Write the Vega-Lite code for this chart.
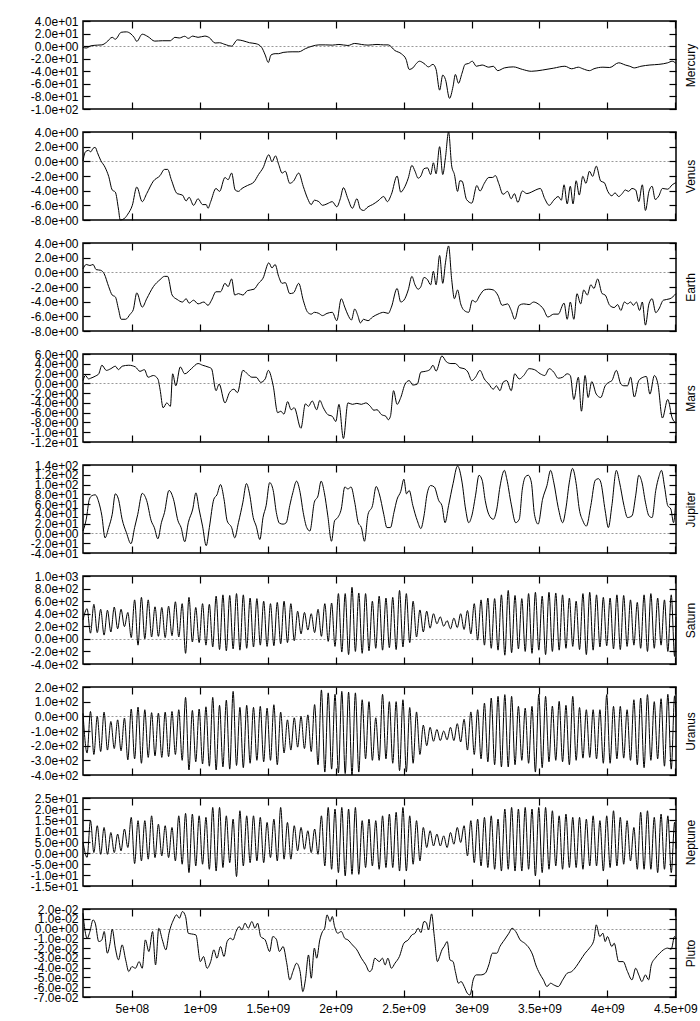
{
"$schema":"https://vega.github.io/schema/vega-lite/v6.json",
"background":"white",
"padding":{"left":29,"top":14,"right":5,"bottom":5},
"config":{
"view":{"stroke":"#000","strokeWidth":1.5},
"axis":{"domain":false,"grid":false,"ticks":true,"tickColor":"#000","tickWidth":1.2,"tickSize":-7,"labelFont":"Liberation Sans","labelFontSize":12,"labelColor":"#000","labelPadding":12,"labelOverlap":false,"labelFlush":false,"labelBound":false,"titleFont":"Liberation Sans","titleFontSize":12,"titleFontWeight":"normal","titleColor":"#000"},
"line":{"color":"#000","strokeWidth":1,"interpolate":"monotone","clip":true}
},
"datasets":{
"mercury":[{"t":0.14e9,"v":-2},{"t":0.164e9,"v":-3},{"t":0.197e9,"v":0.5},{"t":0.246e9,"v":1.6},{"t":0.279e9,"v":2},{"t":0.312e9,"v":6},{"t":0.355e9,"v":14},{"t":0.378e9,"v":11},{"t":0.421e9,"v":22},{"t":0.46e9,"v":22.7},{"t":0.493e9,"v":19.4},{"t":0.516e9,"v":14},{"t":0.536e9,"v":7.6},{"t":0.576e9,"v":19},{"t":0.619e9,"v":15},{"t":0.668e9,"v":8},{"t":0.724e9,"v":8.6},{"t":0.783e9,"v":8.6},{"t":0.816e9,"v":14},{"t":0.849e9,"v":13},{"t":0.889e9,"v":15.7},{"t":0.915e9,"v":12.4},{"t":0.948e9,"v":16},{"t":0.987e9,"v":14},{"t":1.037e9,"v":16},{"t":1.07e9,"v":13.5},{"t":1.112e9,"v":5},{"t":1.145e9,"v":5.4},{"t":1.185e9,"v":2.7},{"t":1.234e9,"v":0},{"t":1.277e9,"v":10},{"t":1.317e9,"v":8.6},{"t":1.366e9,"v":5.4},{"t":1.415e9,"v":3.8},{"t":1.455e9,"v":-2},{"t":1.481e9,"v":-14},{"t":1.504e9,"v":-26},{"t":1.524e9,"v":-14},{"t":1.554e9,"v":-12},{"t":1.58e9,"v":-12},{"t":1.613e9,"v":-10},{"t":1.679e9,"v":-9},{"t":1.728e9,"v":-9},{"t":1.777e9,"v":-4},{"t":1.827e9,"v":0},{"t":1.876e9,"v":2},{"t":1.926e9,"v":2},{"t":1.975e9,"v":1.6},{"t":2.024e9,"v":2.7},{"t":2.09e9,"v":1},{"t":2.14e9,"v":4.3},{"t":2.189e9,"v":2.7},{"t":2.238e9,"v":1.6},{"t":2.304e9,"v":2.7},{"t":2.354e9,"v":2},{"t":2.387e9,"v":2},{"t":2.436e9,"v":-7},{"t":2.485e9,"v":-12.4},{"t":2.518e9,"v":-21},{"t":2.541e9,"v":-37},{"t":2.568e9,"v":-34.6},{"t":2.594e9,"v":-27.5},{"t":2.617e9,"v":-24},{"t":2.65e9,"v":-27.5},{"t":2.683e9,"v":-33},{"t":2.716e9,"v":-29},{"t":2.739e9,"v":-37},{"t":2.765e9,"v":-70},{"t":2.788e9,"v":-46},{"t":2.808e9,"v":-53},{"t":2.838e9,"v":-83},{"t":2.864e9,"v":-64},{"t":2.881e9,"v":-45},{"t":2.904e9,"v":-59},{"t":2.93e9,"v":-43},{"t":2.953e9,"v":-29},{"t":2.979e9,"v":-27.5},{"t":3.006e9,"v":-24},{"t":3.035e9,"v":-32},{"t":3.078e9,"v":-30},{"t":3.127e9,"v":-33.5},{"t":3.16e9,"v":-32},{"t":3.193e9,"v":-39},{"t":3.242e9,"v":-34.6},{"t":3.308e9,"v":-33},{"t":3.374e9,"v":-37},{"t":3.44e9,"v":-40},{"t":3.523e9,"v":-38},{"t":3.605e9,"v":-35},{"t":3.687e9,"v":-32},{"t":3.737e9,"v":-36},{"t":3.786e9,"v":-33.5},{"t":3.819e9,"v":-36},{"t":3.868e9,"v":-39},{"t":3.901e9,"v":-36},{"t":3.967e9,"v":-33.5},{"t":4.017e9,"v":-34},{"t":4.083e9,"v":-26.5},{"t":4.132e9,"v":-30},{"t":4.165e9,"v":-32},{"t":4.198e9,"v":-34.6},{"t":4.247e9,"v":-32},{"t":4.313e9,"v":-30},{"t":4.379e9,"v":-29},{"t":4.444e9,"v":-26.5},{"t":4.477e9,"v":-24},{"t":4.505e9,"v":-27.5}],
"venus":[{"t":0.14e9,"v":0.05},{"t":0.158e9,"v":1.3},{"t":0.181e9,"v":1.5},{"t":0.197e9,"v":1.3},{"t":0.214e9,"v":1.77},{"t":0.23e9,"v":1.9},{"t":0.246e9,"v":1.2},{"t":0.27e9,"v":0.14},{"t":0.302e9,"v":-0.8},{"t":0.329e9,"v":-2.05},{"t":0.355e9,"v":-3.9},{"t":0.378e9,"v":-4.2},{"t":0.401e9,"v":-6.5},{"t":0.414e9,"v":-8},{"t":0.444e9,"v":-7.8},{"t":0.47e9,"v":-7.2},{"t":0.503e9,"v":-6},{"t":0.536e9,"v":-3.5},{"t":0.576e9,"v":-5.5},{"t":0.609e9,"v":-4.4},{"t":0.658e9,"v":-2.7},{"t":0.707e9,"v":-1.95},{"t":0.74e9,"v":-1.1},{"t":0.763e9,"v":-1.1},{"t":0.79e9,"v":-2.5},{"t":0.833e9,"v":-4.4},{"t":0.872e9,"v":-4.6},{"t":0.899e9,"v":-5.4},{"t":0.921e9,"v":-4.9},{"t":0.954e9,"v":-6},{"t":0.987e9,"v":-5.1},{"t":1.02e9,"v":-5.9},{"t":1.047e9,"v":-5.9},{"t":1.06e9,"v":-6.4},{"t":1.08e9,"v":-5.5},{"t":1.119e9,"v":-3.7},{"t":1.145e9,"v":-4.1},{"t":1.185e9,"v":-2.2},{"t":1.208e9,"v":-2.5},{"t":1.234e9,"v":-1.6},{"t":1.26e9,"v":-3.9},{"t":1.284e9,"v":-4.1},{"t":1.31e9,"v":-3.7},{"t":1.35e9,"v":-3.3},{"t":1.399e9,"v":-2.8},{"t":1.432e9,"v":-1.8},{"t":1.465e9,"v":-0.9},{"t":1.508e9,"v":0.9},{"t":1.531e9,"v":-0.05},{"t":1.557e9,"v":0.75},{"t":1.58e9,"v":-0.4},{"t":1.606e9,"v":-1.6},{"t":1.629e9,"v":-1.35},{"t":1.662e9,"v":-3},{"t":1.689e9,"v":-2.7},{"t":1.728e9,"v":-1.6},{"t":1.761e9,"v":-3.4},{"t":1.794e9,"v":-5.1},{"t":1.82e9,"v":-5.9},{"t":1.843e9,"v":-5.3},{"t":1.876e9,"v":-5.5},{"t":1.903e9,"v":-6},{"t":1.936e9,"v":-5.8},{"t":1.975e9,"v":-5.5},{"t":2.008e9,"v":-6.2},{"t":2.034e9,"v":-5.1},{"t":2.057e9,"v":-3.6},{"t":2.09e9,"v":-5.1},{"t":2.123e9,"v":-6.4},{"t":2.156e9,"v":-5.1},{"t":2.182e9,"v":-6.5},{"t":2.205e9,"v":-6.7},{"t":2.238e9,"v":-6.2},{"t":2.271e9,"v":-5.9},{"t":2.311e9,"v":-5.4},{"t":2.354e9,"v":-4.8},{"t":2.38e9,"v":-5.5},{"t":2.41e9,"v":-4.5},{"t":2.452e9,"v":-2},{"t":2.479e9,"v":-4.2},{"t":2.502e9,"v":-3.7},{"t":2.534e9,"v":-2.3},{"t":2.561e9,"v":-0.55},{"t":2.584e9,"v":-1.35},{"t":2.607e9,"v":-2.3},{"t":2.627e9,"v":-2},{"t":2.65e9,"v":-1},{"t":2.676e9,"v":-0.9},{"t":2.699e9,"v":-1.8},{"t":2.719e9,"v":-0.2},{"t":2.739e9,"v":-1.7},{"t":2.765e9,"v":2},{"t":2.788e9,"v":-1.8},{"t":2.808e9,"v":0.5},{"t":2.831e9,"v":4},{"t":2.854e9,"v":-0.65},{"t":2.874e9,"v":-1.8},{"t":2.897e9,"v":-4.1},{"t":2.914e9,"v":-2.65},{"t":2.93e9,"v":-2.7},{"t":2.963e9,"v":-5.2},{"t":3.002e9,"v":-5.7},{"t":3.039e9,"v":-3.3},{"t":3.062e9,"v":-4.05},{"t":3.094e9,"v":-3},{"t":3.127e9,"v":-2.2},{"t":3.154e9,"v":-2.2},{"t":3.176e9,"v":-1.95},{"t":3.2e9,"v":-3},{"t":3.232e9,"v":-4.5},{"t":3.265e9,"v":-4.1},{"t":3.292e9,"v":-5.1},{"t":3.315e9,"v":-4.4},{"t":3.341e9,"v":-5.6},{"t":3.374e9,"v":-4.05},{"t":3.407e9,"v":-4.4},{"t":3.44e9,"v":-4.2},{"t":3.473e9,"v":-3.9},{"t":3.506e9,"v":-3.7},{"t":3.539e9,"v":-5.1},{"t":3.572e9,"v":-6},{"t":3.605e9,"v":-5.3},{"t":3.638e9,"v":-4.8},{"t":3.661e9,"v":-5.3},{"t":3.681e9,"v":-3.2},{"t":3.704e9,"v":-5.8},{"t":3.727e9,"v":-3.4},{"t":3.747e9,"v":-5.8},{"t":3.77e9,"v":-2.65},{"t":3.793e9,"v":-4.6},{"t":3.819e9,"v":-2.05},{"t":3.842e9,"v":-3},{"t":3.868e9,"v":-1.35},{"t":3.891e9,"v":-2.05},{"t":3.918e9,"v":-0.65},{"t":3.951e9,"v":-2.7},{"t":3.977e9,"v":-2.9},{"t":4.003e9,"v":-4.1},{"t":4.033e9,"v":-4.7},{"t":4.056e9,"v":-4.3},{"t":4.083e9,"v":-4.8},{"t":4.109e9,"v":-4.4},{"t":4.132e9,"v":-3.9},{"t":4.155e9,"v":-4.1},{"t":4.181e9,"v":-3.7},{"t":4.208e9,"v":-3.9},{"t":4.231e9,"v":-5.5},{"t":4.257e9,"v":-3.2},{"t":4.28e9,"v":-6.7},{"t":4.306e9,"v":-4.1},{"t":4.329e9,"v":-3.4},{"t":4.352e9,"v":-5.2},{"t":4.379e9,"v":-4.7},{"t":4.405e9,"v":-3.7},{"t":4.444e9,"v":-3.8},{"t":4.477e9,"v":-3.2},{"t":4.505e9,"v":-2.9}],
"earth":[{"t":0.14e9,"v":0.47},{"t":0.164e9,"v":1.07},{"t":0.191e9,"v":0.93},{"t":0.214e9,"v":1.07},{"t":0.237e9,"v":0.37},{"t":0.27e9,"v":0.28},{"t":0.296e9,"v":-0.2},{"t":0.329e9,"v":-1.95},{"t":0.355e9,"v":-3.1},{"t":0.378e9,"v":-3.35},{"t":0.401e9,"v":-5},{"t":0.421e9,"v":-6.4},{"t":0.454e9,"v":-6.4},{"t":0.487e9,"v":-5.7},{"t":0.51e9,"v":-5.1},{"t":0.536e9,"v":-2.8},{"t":0.576e9,"v":-4.75},{"t":0.609e9,"v":-3.6},{"t":0.658e9,"v":-1.95},{"t":0.707e9,"v":-1},{"t":0.74e9,"v":-0.55},{"t":0.763e9,"v":-0.55},{"t":0.796e9,"v":-3.1},{"t":0.833e9,"v":-3.7},{"t":0.872e9,"v":-4.05},{"t":0.899e9,"v":-3.6},{"t":0.921e9,"v":-4.2},{"t":0.954e9,"v":-3.8},{"t":0.987e9,"v":-4.3},{"t":1.03e9,"v":-4.05},{"t":1.06e9,"v":-4.5},{"t":1.086e9,"v":-3.8},{"t":1.119e9,"v":-2.65},{"t":1.152e9,"v":-2.65},{"t":1.185e9,"v":-1.5},{"t":1.208e9,"v":-1.95},{"t":1.234e9,"v":-0.9},{"t":1.257e9,"v":-3.1},{"t":1.284e9,"v":-2.9},{"t":1.317e9,"v":-3.1},{"t":1.35e9,"v":-2.5},{"t":1.399e9,"v":-2.3},{"t":1.432e9,"v":-1.5},{"t":1.465e9,"v":-0.8},{"t":1.508e9,"v":1.3},{"t":1.531e9,"v":0.6},{"t":1.554e9,"v":1.07},{"t":1.58e9,"v":-0.55},{"t":1.606e9,"v":-1.5},{"t":1.629e9,"v":-1.4},{"t":1.662e9,"v":-2.9},{"t":1.689e9,"v":-2.8},{"t":1.728e9,"v":-1.5},{"t":1.761e9,"v":-3.8},{"t":1.794e9,"v":-5.45},{"t":1.82e9,"v":-5.7},{"t":1.843e9,"v":-5.45},{"t":1.876e9,"v":-5.6},{"t":1.903e9,"v":-5.9},{"t":1.936e9,"v":-5.6},{"t":1.975e9,"v":-5.45},{"t":2.008e9,"v":-6.6},{"t":2.041e9,"v":-3.6},{"t":2.067e9,"v":-4.75},{"t":2.09e9,"v":-5.8},{"t":2.116e9,"v":-6.5},{"t":2.14e9,"v":-5},{"t":2.163e9,"v":-5.9},{"t":2.182e9,"v":-6.9},{"t":2.205e9,"v":-6.4},{"t":2.238e9,"v":-6.6},{"t":2.271e9,"v":-6.1},{"t":2.311e9,"v":-5.7},{"t":2.354e9,"v":-5.45},{"t":2.387e9,"v":-5.6},{"t":2.41e9,"v":-4.75},{"t":2.452e9,"v":-2.2},{"t":2.479e9,"v":-4.05},{"t":2.502e9,"v":-3.8},{"t":2.534e9,"v":-2.4},{"t":2.561e9,"v":-0.55},{"t":2.584e9,"v":-1.7},{"t":2.607e9,"v":-2.3},{"t":2.627e9,"v":-1.95},{"t":2.65e9,"v":-0.7},{"t":2.676e9,"v":-1},{"t":2.699e9,"v":-1.7},{"t":2.719e9,"v":0.14},{"t":2.739e9,"v":-1.7},{"t":2.765e9,"v":2.3},{"t":2.788e9,"v":-1.5},{"t":2.808e9,"v":1.3},{"t":2.831e9,"v":3.6},{"t":2.854e9,"v":-1},{"t":2.874e9,"v":-3.6},{"t":2.897e9,"v":-2.4},{"t":2.92e9,"v":-4.3},{"t":2.946e9,"v":-5.2},{"t":2.979e9,"v":-5.45},{"t":3.006e9,"v":-3.8},{"t":3.029e9,"v":-4.05},{"t":3.062e9,"v":-3.1},{"t":3.094e9,"v":-2.4},{"t":3.127e9,"v":-2.3},{"t":3.16e9,"v":-2.4},{"t":3.193e9,"v":-3.1},{"t":3.226e9,"v":-4.5},{"t":3.265e9,"v":-4.3},{"t":3.292e9,"v":-5.2},{"t":3.318e9,"v":-6.4},{"t":3.351e9,"v":-4.5},{"t":3.384e9,"v":-4.3},{"t":3.424e9,"v":-4.4},{"t":3.457e9,"v":-4.05},{"t":3.49e9,"v":-4.3},{"t":3.529e9,"v":-5},{"t":3.562e9,"v":-6.1},{"t":3.605e9,"v":-5.7},{"t":3.638e9,"v":-5.7},{"t":3.681e9,"v":-4.2},{"t":3.704e9,"v":-6.4},{"t":3.727e9,"v":-4.05},{"t":3.753e9,"v":-6.4},{"t":3.776e9,"v":-2.9},{"t":3.803e9,"v":-4.3},{"t":3.826e9,"v":-2.4},{"t":3.852e9,"v":-3.1},{"t":3.878e9,"v":-1.7},{"t":3.901e9,"v":-2.2},{"t":3.928e9,"v":-0.9},{"t":3.961e9,"v":-2.9},{"t":3.984e9,"v":-3.1},{"t":4.017e9,"v":-4.5},{"t":4.05e9,"v":-4.8},{"t":4.076e9,"v":-4.4},{"t":4.099e9,"v":-5.2},{"t":4.125e9,"v":-4.05},{"t":4.148e9,"v":-4.3},{"t":4.171e9,"v":-4.05},{"t":4.191e9,"v":-4.5},{"t":4.214e9,"v":-4.05},{"t":4.237e9,"v":-5.2},{"t":4.257e9,"v":-4.05},{"t":4.28e9,"v":-7.2},{"t":4.306e9,"v":-4.3},{"t":4.329e9,"v":-3.6},{"t":4.356e9,"v":-5.5},{"t":4.379e9,"v":-5},{"t":4.412e9,"v":-3.8},{"t":4.461e9,"v":-3.6},{"t":4.505e9,"v":-2.9}],
"mars":[{"t":0.14e9,"v":0.56},{"t":0.158e9,"v":1.6},{"t":0.181e9,"v":0.9},{"t":0.197e9,"v":1.05},{"t":0.23e9,"v":1.46},{"t":0.256e9,"v":1.95},{"t":0.279e9,"v":3.7},{"t":0.312e9,"v":2.65},{"t":0.345e9,"v":3},{"t":0.378e9,"v":3.5},{"t":0.401e9,"v":2.8},{"t":0.428e9,"v":3.5},{"t":0.477e9,"v":3.7},{"t":0.526e9,"v":3.35},{"t":0.559e9,"v":2.45},{"t":0.592e9,"v":2.8},{"t":0.619e9,"v":1.25},{"t":0.658e9,"v":1.6},{"t":0.691e9,"v":0.9},{"t":0.707e9,"v":-1.2},{"t":0.73e9,"v":-5},{"t":0.757e9,"v":-4},{"t":0.783e9,"v":-4.7},{"t":0.8e9,"v":1.95},{"t":0.823e9,"v":-0.5},{"t":0.856e9,"v":3.35},{"t":0.889e9,"v":1.95},{"t":0.938e9,"v":3},{"t":0.987e9,"v":4.05},{"t":1.02e9,"v":3.7},{"t":1.06e9,"v":3.35},{"t":1.086e9,"v":3},{"t":1.119e9,"v":-1.5},{"t":1.142e9,"v":-0.15},{"t":1.185e9,"v":-4},{"t":1.218e9,"v":-1.9},{"t":1.251e9,"v":-1.2},{"t":1.277e9,"v":-1.9},{"t":1.317e9,"v":2.65},{"t":1.35e9,"v":1.95},{"t":1.383e9,"v":1.25},{"t":1.415e9,"v":1.25},{"t":1.448e9,"v":0.2},{"t":1.481e9,"v":0.9},{"t":1.504e9,"v":2.65},{"t":1.54e9,"v":-0.5},{"t":1.573e9,"v":-6},{"t":1.596e9,"v":-5.7},{"t":1.619e9,"v":-6.3},{"t":1.646e9,"v":-3.75},{"t":1.672e9,"v":-5.4},{"t":1.695e9,"v":-5},{"t":1.744e9,"v":-9.2},{"t":1.777e9,"v":-4.2},{"t":1.8e9,"v":-4.7},{"t":1.827e9,"v":-3.6},{"t":1.86e9,"v":-5.4},{"t":1.883e9,"v":-3.5},{"t":1.909e9,"v":-5},{"t":1.942e9,"v":-6.4},{"t":1.975e9,"v":-6.75},{"t":2.001e9,"v":-7.8},{"t":2.024e9,"v":-4.3},{"t":2.057e9,"v":-11.3},{"t":2.09e9,"v":-4},{"t":2.123e9,"v":-4.3},{"t":2.156e9,"v":-4.1},{"t":2.189e9,"v":-4.3},{"t":2.222e9,"v":-4},{"t":2.255e9,"v":-4.7},{"t":2.281e9,"v":-5.5},{"t":2.304e9,"v":-5.4},{"t":2.337e9,"v":-6.4},{"t":2.37e9,"v":-6.75},{"t":2.387e9,"v":-7.45},{"t":2.403e9,"v":-6.75},{"t":2.426e9,"v":-1.5},{"t":2.452e9,"v":-4.3},{"t":2.479e9,"v":-2.9},{"t":2.511e9,"v":-0.15},{"t":2.541e9,"v":0.56},{"t":2.568e9,"v":-0.35},{"t":2.601e9,"v":-0.15},{"t":2.627e9,"v":2.3},{"t":2.66e9,"v":2.45},{"t":2.693e9,"v":2.8},{"t":2.716e9,"v":3.7},{"t":2.739e9,"v":2.5},{"t":2.782e9,"v":5.6},{"t":2.815e9,"v":4.4},{"t":2.848e9,"v":4.05},{"t":2.881e9,"v":4.05},{"t":2.914e9,"v":3.2},{"t":2.946e9,"v":3},{"t":2.973e9,"v":2.3},{"t":3.002e9,"v":0.56},{"t":3.029e9,"v":1.25},{"t":3.062e9,"v":2.65},{"t":3.094e9,"v":0.9},{"t":3.127e9,"v":-0.15},{"t":3.16e9,"v":-1.2},{"t":3.183e9,"v":-0.5},{"t":3.209e9,"v":-1.5},{"t":3.232e9,"v":0.2},{"t":3.259e9,"v":0.56},{"t":3.292e9,"v":-1.5},{"t":3.318e9,"v":1.95},{"t":3.351e9,"v":0.9},{"t":3.384e9,"v":1.6},{"t":3.424e9,"v":3},{"t":3.463e9,"v":2.8},{"t":3.506e9,"v":1.95},{"t":3.539e9,"v":1.6},{"t":3.572e9,"v":3},{"t":3.605e9,"v":2.3},{"t":3.638e9,"v":1.05},{"t":3.671e9,"v":1.25},{"t":3.704e9,"v":1.95},{"t":3.727e9,"v":1.6},{"t":3.753e9,"v":-3.3},{"t":3.786e9,"v":1.25},{"t":3.809e9,"v":-5.7},{"t":3.836e9,"v":1.6},{"t":3.858e9,"v":-2.9},{"t":3.885e9,"v":0.35},{"t":3.918e9,"v":-2.2},{"t":3.951e9,"v":-2.9},{"t":3.984e9,"v":-0.5},{"t":4.01e9,"v":0.2},{"t":4.033e9,"v":0.56},{"t":4.066e9,"v":2.65},{"t":4.099e9,"v":-0.15},{"t":4.122e9,"v":-0.5},{"t":4.148e9,"v":-0.5},{"t":4.171e9,"v":1.25},{"t":4.198e9,"v":-2.8},{"t":4.231e9,"v":0.56},{"t":4.264e9,"v":1.25},{"t":4.287e9,"v":1.4},{"t":4.313e9,"v":-2.2},{"t":4.346e9,"v":1.6},{"t":4.372e9,"v":-0.15},{"t":4.405e9,"v":-7.1},{"t":4.444e9,"v":-3.3},{"t":4.477e9,"v":-7.1},{"t":4.505e9,"v":-8.15}],
"jupiter":[{"t":0.14e9,"v":5},{"t":0.164e9,"v":29},{"t":0.187e9,"v":70},{"t":0.207e9,"v":77.5},{"t":0.23e9,"v":79},{"t":0.256e9,"v":64},{"t":0.279e9,"v":36},{"t":0.302e9,"v":-9},{"t":0.329e9,"v":12},{"t":0.355e9,"v":39},{"t":0.378e9,"v":81},{"t":0.401e9,"v":70},{"t":0.428e9,"v":29},{"t":0.46e9,"v":1.4},{"t":0.493e9,"v":-21},{"t":0.52e9,"v":12},{"t":0.543e9,"v":39},{"t":0.576e9,"v":82},{"t":0.609e9,"v":67},{"t":0.642e9,"v":26},{"t":0.665e9,"v":12},{"t":0.691e9,"v":-11},{"t":0.717e9,"v":22},{"t":0.74e9,"v":43},{"t":0.773e9,"v":88},{"t":0.806e9,"v":70},{"t":0.839e9,"v":26},{"t":0.862e9,"v":12},{"t":0.889e9,"v":-17},{"t":0.915e9,"v":22},{"t":0.948e9,"v":50},{"t":0.971e9,"v":83},{"t":0.994e9,"v":50},{"t":1.02e9,"v":15},{"t":1.047e9,"v":-25},{"t":1.07e9,"v":12},{"t":1.103e9,"v":70},{"t":1.126e9,"v":79},{"t":1.152e9,"v":100},{"t":1.178e9,"v":70},{"t":1.201e9,"v":26},{"t":1.234e9,"v":12},{"t":1.257e9,"v":-9},{"t":1.284e9,"v":22},{"t":1.317e9,"v":64},{"t":1.343e9,"v":102},{"t":1.366e9,"v":81},{"t":1.393e9,"v":32.5},{"t":1.415e9,"v":15},{"t":1.442e9,"v":-12.5},{"t":1.465e9,"v":32.5},{"t":1.488e9,"v":57},{"t":1.514e9,"v":104},{"t":1.54e9,"v":88},{"t":1.563e9,"v":43},{"t":1.586e9,"v":21},{"t":1.613e9,"v":19},{"t":1.636e9,"v":22},{"t":1.662e9,"v":57},{"t":1.685e9,"v":84},{"t":1.712e9,"v":107},{"t":1.738e9,"v":84},{"t":1.761e9,"v":43},{"t":1.787e9,"v":12},{"t":1.81e9,"v":5},{"t":1.843e9,"v":64},{"t":1.87e9,"v":77},{"t":1.893e9,"v":107},{"t":1.916e9,"v":84},{"t":1.942e9,"v":36},{"t":1.969e9,"v":-16},{"t":1.992e9,"v":26},{"t":2.015e9,"v":32.5},{"t":2.041e9,"v":50},{"t":2.067e9,"v":95},{"t":2.09e9,"v":91},{"t":2.113e9,"v":95},{"t":2.14e9,"v":64},{"t":2.166e9,"v":22},{"t":2.189e9,"v":12},{"t":2.212e9,"v":-16},{"t":2.238e9,"v":39},{"t":2.271e9,"v":57},{"t":2.298e9,"v":96},{"t":2.321e9,"v":81},{"t":2.354e9,"v":39},{"t":2.377e9,"v":12},{"t":2.403e9,"v":12},{"t":2.429e9,"v":43},{"t":2.452e9,"v":70},{"t":2.479e9,"v":86},{"t":2.502e9,"v":111},{"t":2.521e9,"v":81},{"t":2.541e9,"v":88},{"t":2.568e9,"v":57},{"t":2.601e9,"v":26},{"t":2.627e9,"v":10},{"t":2.65e9,"v":36},{"t":2.673e9,"v":81},{"t":2.699e9,"v":98},{"t":2.726e9,"v":95},{"t":2.759e9,"v":67},{"t":2.782e9,"v":57},{"t":2.805e9,"v":22},{"t":2.831e9,"v":57},{"t":2.864e9,"v":102},{"t":2.897e9,"v":138},{"t":2.93e9,"v":105},{"t":2.956e9,"v":50},{"t":2.979e9,"v":22},{"t":3.002e9,"v":36},{"t":3.029e9,"v":77},{"t":3.055e9,"v":119},{"t":3.078e9,"v":109},{"t":3.101e9,"v":67},{"t":3.127e9,"v":39},{"t":3.16e9,"v":29},{"t":3.186e9,"v":50},{"t":3.209e9,"v":95},{"t":3.242e9,"v":129},{"t":3.259e9,"v":112},{"t":3.292e9,"v":60},{"t":3.325e9,"v":22},{"t":3.351e9,"v":29},{"t":3.374e9,"v":91},{"t":3.397e9,"v":116},{"t":3.417e9,"v":119},{"t":3.44e9,"v":105},{"t":3.463e9,"v":39},{"t":3.49e9,"v":19},{"t":3.523e9,"v":70},{"t":3.555e9,"v":98},{"t":3.582e9,"v":129},{"t":3.605e9,"v":105},{"t":3.638e9,"v":53},{"t":3.671e9,"v":22},{"t":3.694e9,"v":50},{"t":3.72e9,"v":105},{"t":3.743e9,"v":133},{"t":3.77e9,"v":102},{"t":3.793e9,"v":50},{"t":3.819e9,"v":26},{"t":3.845e9,"v":15},{"t":3.878e9,"v":57},{"t":3.911e9,"v":109},{"t":3.934e9,"v":112},{"t":3.951e9,"v":105},{"t":3.984e9,"v":46},{"t":4.007e9,"v":12},{"t":4.033e9,"v":57},{"t":4.066e9,"v":129},{"t":4.089e9,"v":105},{"t":4.122e9,"v":57},{"t":4.148e9,"v":32.5},{"t":4.181e9,"v":36},{"t":4.208e9,"v":77},{"t":4.231e9,"v":119},{"t":4.254e9,"v":105},{"t":4.28e9,"v":64},{"t":4.306e9,"v":36},{"t":4.329e9,"v":32.5},{"t":4.356e9,"v":88},{"t":4.379e9,"v":116},{"t":4.398e9,"v":129},{"t":4.421e9,"v":95},{"t":4.444e9,"v":57},{"t":4.467e9,"v":50},{"t":4.487e9,"v":22},{"t":4.505e9,"v":77}],
"saturn":[{"t":0.14e9,"v":300},{"t":0.17e9,"v":480},{"t":0.195e9,"v":90},{"t":0.22e9,"v":550},{"t":0.245e9,"v":100},{"t":0.27e9,"v":470},{"t":0.295e9,"v":60},{"t":0.32e9,"v":455},{"t":0.345e9,"v":110},{"t":0.37e9,"v":505},{"t":0.395e9,"v":160},{"t":0.42e9,"v":470},{"t":0.445e9,"v":195},{"t":0.47e9,"v":420},{"t":0.495e9,"v":20},{"t":0.52e9,"v":620},{"t":0.545e9,"v":-100},{"t":0.57e9,"v":660},{"t":0.595e9,"v":0},{"t":0.62e9,"v":620},{"t":0.645e9,"v":30},{"t":0.67e9,"v":510},{"t":0.695e9,"v":40},{"t":0.72e9,"v":500},{"t":0.745e9,"v":20},{"t":0.77e9,"v":520},{"t":0.795e9,"v":50},{"t":0.82e9,"v":590},{"t":0.845e9,"v":30},{"t":0.87e9,"v":560},{"t":0.895e9,"v":-230},{"t":0.92e9,"v":660},{"t":0.945e9,"v":-50},{"t":0.97e9,"v":500},{"t":0.995e9,"v":-60},{"t":1.02e9,"v":560},{"t":1.045e9,"v":-100},{"t":1.07e9,"v":550},{"t":1.095e9,"v":-130},{"t":1.12e9,"v":680},{"t":1.145e9,"v":-170},{"t":1.17e9,"v":700},{"t":1.195e9,"v":-190},{"t":1.22e9,"v":690},{"t":1.245e9,"v":-160},{"t":1.27e9,"v":720},{"t":1.295e9,"v":-180},{"t":1.32e9,"v":700},{"t":1.345e9,"v":-150},{"t":1.37e9,"v":650},{"t":1.395e9,"v":-130},{"t":1.42e9,"v":640},{"t":1.445e9,"v":-100},{"t":1.47e9,"v":600},{"t":1.495e9,"v":-120},{"t":1.52e9,"v":560},{"t":1.545e9,"v":-110},{"t":1.57e9,"v":580},{"t":1.595e9,"v":-80},{"t":1.62e9,"v":600},{"t":1.645e9,"v":-60},{"t":1.67e9,"v":560},{"t":1.695e9,"v":-30},{"t":1.72e9,"v":440},{"t":1.745e9,"v":80},{"t":1.77e9,"v":420},{"t":1.795e9,"v":140},{"t":1.82e9,"v":400},{"t":1.845e9,"v":100},{"t":1.87e9,"v":470},{"t":1.895e9,"v":40},{"t":1.92e9,"v":560},{"t":1.945e9,"v":-40},{"t":1.97e9,"v":570},{"t":1.995e9,"v":-120},{"t":2.02e9,"v":720},{"t":2.045e9,"v":-210},{"t":2.07e9,"v":720},{"t":2.095e9,"v":-250},{"t":2.12e9,"v":820},{"t":2.145e9,"v":-200},{"t":2.17e9,"v":730},{"t":2.195e9,"v":-230},{"t":2.22e9,"v":720},{"t":2.245e9,"v":-190},{"t":2.27e9,"v":600},{"t":2.295e9,"v":-150},{"t":2.32e9,"v":680},{"t":2.345e9,"v":-180},{"t":2.37e9,"v":650},{"t":2.395e9,"v":-140},{"t":2.42e9,"v":660},{"t":2.445e9,"v":-170},{"t":2.47e9,"v":770},{"t":2.495e9,"v":-130},{"t":2.52e9,"v":720},{"t":2.545e9,"v":-60},{"t":2.57e9,"v":600},{"t":2.595e9,"v":30},{"t":2.62e9,"v":460},{"t":2.645e9,"v":110},{"t":2.67e9,"v":440},{"t":2.695e9,"v":170},{"t":2.72e9,"v":400},{"t":2.745e9,"v":240},{"t":2.77e9,"v":350},{"t":2.795e9,"v":200},{"t":2.82e9,"v":290},{"t":2.845e9,"v":160},{"t":2.87e9,"v":330},{"t":2.895e9,"v":180},{"t":2.92e9,"v":400},{"t":2.945e9,"v":150},{"t":2.97e9,"v":450},{"t":2.995e9,"v":80},{"t":3.02e9,"v":560},{"t":3.045e9,"v":-20},{"t":3.07e9,"v":620},{"t":3.095e9,"v":-100},{"t":3.12e9,"v":650},{"t":3.145e9,"v":-150},{"t":3.17e9,"v":640},{"t":3.195e9,"v":-180},{"t":3.22e9,"v":700},{"t":3.245e9,"v":-260},{"t":3.27e9,"v":770},{"t":3.295e9,"v":-220},{"t":3.32e9,"v":690},{"t":3.345e9,"v":-160},{"t":3.37e9,"v":640},{"t":3.395e9,"v":-200},{"t":3.42e9,"v":720},{"t":3.445e9,"v":-230},{"t":3.47e9,"v":740},{"t":3.495e9,"v":-180},{"t":3.52e9,"v":680},{"t":3.545e9,"v":-250},{"t":3.57e9,"v":740},{"t":3.595e9,"v":-200},{"t":3.62e9,"v":730},{"t":3.645e9,"v":-180},{"t":3.67e9,"v":700},{"t":3.695e9,"v":-150},{"t":3.72e9,"v":650},{"t":3.745e9,"v":-120},{"t":3.77e9,"v":600},{"t":3.795e9,"v":-170},{"t":3.82e9,"v":720},{"t":3.845e9,"v":-250},{"t":3.87e9,"v":740},{"t":3.895e9,"v":-180},{"t":3.92e9,"v":700},{"t":3.945e9,"v":-130},{"t":3.97e9,"v":660},{"t":3.995e9,"v":-110},{"t":4.02e9,"v":650},{"t":4.045e9,"v":-160},{"t":4.07e9,"v":700},{"t":4.095e9,"v":-170},{"t":4.12e9,"v":690},{"t":4.145e9,"v":-120},{"t":4.17e9,"v":620},{"t":4.195e9,"v":-100},{"t":4.22e9,"v":580},{"t":4.245e9,"v":-150},{"t":4.27e9,"v":700},{"t":4.295e9,"v":-200},{"t":4.32e9,"v":720},{"t":4.345e9,"v":-150},{"t":4.37e9,"v":650},{"t":4.395e9,"v":-100},{"t":4.42e9,"v":620},{"t":4.445e9,"v":-200},{"t":4.47e9,"v":700},{"t":4.495e9,"v":-280},{"t":4.505e9,"v":350}],
"uranus":[{"t":0.14e9,"v":20},{"t":0.17e9,"v":-250},{"t":0.195e9,"v":33},{"t":0.22e9,"v":-260},{"t":0.245e9,"v":0},{"t":0.27e9,"v":-240},{"t":0.295e9,"v":29},{"t":0.32e9,"v":-230},{"t":0.345e9,"v":-35},{"t":0.37e9,"v":-220},{"t":0.395e9,"v":-24},{"t":0.42e9,"v":-235},{"t":0.445e9,"v":-12},{"t":0.47e9,"v":-297},{"t":0.495e9,"v":50},{"t":0.52e9,"v":-290},{"t":0.545e9,"v":63},{"t":0.57e9,"v":-320},{"t":0.595e9,"v":45},{"t":0.62e9,"v":-280},{"t":0.645e9,"v":25},{"t":0.67e9,"v":-270},{"t":0.695e9,"v":22},{"t":0.72e9,"v":-280},{"t":0.745e9,"v":29},{"t":0.77e9,"v":-275},{"t":0.795e9,"v":33},{"t":0.82e9,"v":-260},{"t":0.845e9,"v":45},{"t":0.87e9,"v":-300},{"t":0.895e9,"v":129},{"t":0.92e9,"v":-366},{"t":0.945e9,"v":40},{"t":0.97e9,"v":-310},{"t":0.995e9,"v":50},{"t":1.02e9,"v":-325},{"t":1.045e9,"v":65},{"t":1.07e9,"v":-340},{"t":1.095e9,"v":129},{"t":1.12e9,"v":-366},{"t":1.145e9,"v":75},{"t":1.17e9,"v":-345},{"t":1.195e9,"v":110},{"t":1.22e9,"v":-360},{"t":1.245e9,"v":170},{"t":1.27e9,"v":-335},{"t":1.295e9,"v":61},{"t":1.32e9,"v":-350},{"t":1.345e9,"v":75},{"t":1.37e9,"v":-320},{"t":1.395e9,"v":61},{"t":1.42e9,"v":-300},{"t":1.445e9,"v":68},{"t":1.47e9,"v":-310},{"t":1.495e9,"v":56},{"t":1.52e9,"v":-300},{"t":1.545e9,"v":79},{"t":1.57e9,"v":-330},{"t":1.595e9,"v":29},{"t":1.62e9,"v":-250},{"t":1.645e9,"v":-24},{"t":1.67e9,"v":-230},{"t":1.695e9,"v":-10},{"t":1.72e9,"v":-210},{"t":1.745e9,"v":0},{"t":1.77e9,"v":-220},{"t":1.795e9,"v":10},{"t":1.82e9,"v":-240},{"t":1.845e9,"v":80},{"t":1.87e9,"v":-330},{"t":1.895e9,"v":180},{"t":1.92e9,"v":-380},{"t":1.945e9,"v":160},{"t":1.97e9,"v":-360},{"t":1.995e9,"v":150},{"t":2.02e9,"v":-385},{"t":2.045e9,"v":170},{"t":2.07e9,"v":-390},{"t":2.095e9,"v":165},{"t":2.12e9,"v":-400},{"t":2.145e9,"v":160},{"t":2.17e9,"v":-380},{"t":2.195e9,"v":113},{"t":2.22e9,"v":-290},{"t":2.245e9,"v":100},{"t":2.27e9,"v":-300},{"t":2.295e9,"v":-10},{"t":2.32e9,"v":-300},{"t":2.345e9,"v":150},{"t":2.37e9,"v":-290},{"t":2.395e9,"v":100},{"t":2.42e9,"v":-320},{"t":2.445e9,"v":100},{"t":2.47e9,"v":-370},{"t":2.495e9,"v":113},{"t":2.52e9,"v":-380},{"t":2.545e9,"v":60},{"t":2.57e9,"v":-320},{"t":2.595e9,"v":30},{"t":2.62e9,"v":-260},{"t":2.645e9,"v":-60},{"t":2.67e9,"v":-200},{"t":2.695e9,"v":-75},{"t":2.72e9,"v":-170},{"t":2.745e9,"v":-90},{"t":2.77e9,"v":-165},{"t":2.795e9,"v":-100},{"t":2.82e9,"v":-160},{"t":2.845e9,"v":-75},{"t":2.87e9,"v":-165},{"t":2.895e9,"v":-50},{"t":2.92e9,"v":-175},{"t":2.945e9,"v":-20},{"t":2.97e9,"v":-230},{"t":2.995e9,"v":30},{"t":3.02e9,"v":-260},{"t":3.045e9,"v":45},{"t":3.07e9,"v":-290},{"t":3.095e9,"v":90},{"t":3.12e9,"v":-310},{"t":3.145e9,"v":125},{"t":3.17e9,"v":-330},{"t":3.195e9,"v":136},{"t":3.22e9,"v":-345},{"t":3.245e9,"v":148},{"t":3.27e9,"v":-345},{"t":3.295e9,"v":136},{"t":3.32e9,"v":-330},{"t":3.345e9,"v":68},{"t":3.37e9,"v":-300},{"t":3.395e9,"v":56},{"t":3.42e9,"v":-320},{"t":3.445e9,"v":68},{"t":3.47e9,"v":-380},{"t":3.495e9,"v":150},{"t":3.52e9,"v":-350},{"t":3.545e9,"v":136},{"t":3.57e9,"v":-310},{"t":3.595e9,"v":70},{"t":3.62e9,"v":-300},{"t":3.645e9,"v":102},{"t":3.67e9,"v":-310},{"t":3.695e9,"v":75},{"t":3.72e9,"v":-330},{"t":3.745e9,"v":136},{"t":3.77e9,"v":-300},{"t":3.795e9,"v":60},{"t":3.82e9,"v":-285},{"t":3.845e9,"v":45},{"t":3.87e9,"v":-280},{"t":3.895e9,"v":45},{"t":3.92e9,"v":-290},{"t":3.945e9,"v":45},{"t":3.97e9,"v":-320},{"t":3.995e9,"v":148},{"t":4.02e9,"v":-320},{"t":4.045e9,"v":68},{"t":4.07e9,"v":-290},{"t":4.095e9,"v":68},{"t":4.12e9,"v":-285},{"t":4.145e9,"v":45},{"t":4.17e9,"v":-300},{"t":4.195e9,"v":113},{"t":4.22e9,"v":-330},{"t":4.245e9,"v":125},{"t":4.27e9,"v":-350},{"t":4.295e9,"v":148},{"t":4.32e9,"v":-300},{"t":4.345e9,"v":100},{"t":4.37e9,"v":-290},{"t":4.395e9,"v":120},{"t":4.42e9,"v":-340},{"t":4.445e9,"v":150},{"t":4.47e9,"v":-360},{"t":4.495e9,"v":140},{"t":4.505e9,"v":0}],
"neptune":[{"t":0.14e9,"v":5},{"t":0.17e9,"v":-2},{"t":0.195e9,"v":14.7},{"t":0.22e9,"v":0.2},{"t":0.245e9,"v":12.4},{"t":0.27e9,"v":-0.6},{"t":0.295e9,"v":11.6},{"t":0.32e9,"v":-0.6},{"t":0.345e9,"v":9.3},{"t":0.37e9,"v":0.2},{"t":0.395e9,"v":8.6},{"t":0.42e9,"v":1},{"t":0.445e9,"v":10.9},{"t":0.47e9,"v":2.5},{"t":0.495e9,"v":16.2},{"t":0.52e9,"v":-4.8},{"t":0.545e9,"v":14.7},{"t":0.57e9,"v":-3.6},{"t":0.595e9,"v":14.7},{"t":0.62e9,"v":-2.8},{"t":0.645e9,"v":16.9},{"t":0.67e9,"v":-2.1},{"t":0.695e9,"v":13.1},{"t":0.72e9,"v":-1.3},{"t":0.745e9,"v":12.4},{"t":0.77e9,"v":-2.1},{"t":0.795e9,"v":11.6},{"t":0.82e9,"v":-3.6},{"t":0.845e9,"v":16.9},{"t":0.87e9,"v":-5.1},{"t":0.895e9,"v":18},{"t":0.92e9,"v":-8.9},{"t":0.945e9,"v":17.7},{"t":0.97e9,"v":-5.9},{"t":0.995e9,"v":16.9},{"t":1.02e9,"v":-5.1},{"t":1.045e9,"v":16.2},{"t":1.07e9,"v":-7.4},{"t":1.095e9,"v":20.7},{"t":1.12e9,"v":-8.2},{"t":1.145e9,"v":20.7},{"t":1.17e9,"v":-6.6},{"t":1.195e9,"v":16.9},{"t":1.22e9,"v":-4.4},{"t":1.245e9,"v":15.4},{"t":1.27e9,"v":-10.7},{"t":1.295e9,"v":19.2},{"t":1.32e9,"v":-5.9},{"t":1.345e9,"v":16.9},{"t":1.37e9,"v":-4.4},{"t":1.395e9,"v":16.9},{"t":1.42e9,"v":-3.6},{"t":1.445e9,"v":16.2},{"t":1.47e9,"v":-4.4},{"t":1.495e9,"v":13.9},{"t":1.52e9,"v":-2.1},{"t":1.545e9,"v":15.4},{"t":1.57e9,"v":-3.6},{"t":1.595e9,"v":20.7},{"t":1.62e9,"v":-2.8},{"t":1.645e9,"v":13.9},{"t":1.67e9,"v":-2.8},{"t":1.695e9,"v":12.4},{"t":1.72e9,"v":1},{"t":1.745e9,"v":11.6},{"t":1.77e9,"v":1.7},{"t":1.795e9,"v":10.1},{"t":1.82e9,"v":0.2},{"t":1.845e9,"v":10.9},{"t":1.87e9,"v":-0.6},{"t":1.895e9,"v":16.9},{"t":1.92e9,"v":-5.9},{"t":1.945e9,"v":20.7},{"t":1.97e9,"v":-7.4},{"t":1.995e9,"v":20},{"t":2.02e9,"v":-8.9},{"t":2.045e9,"v":20.7},{"t":2.07e9,"v":-10.4},{"t":2.095e9,"v":20},{"t":2.12e9,"v":-9.7},{"t":2.145e9,"v":20.7},{"t":2.17e9,"v":-9.7},{"t":2.195e9,"v":14.7},{"t":2.22e9,"v":-6.6},{"t":2.245e9,"v":15.4},{"t":2.27e9,"v":-5.9},{"t":2.295e9,"v":14.7},{"t":2.32e9,"v":-7.4},{"t":2.345e9,"v":16.9},{"t":2.37e9,"v":-6.6},{"t":2.395e9,"v":17.7},{"t":2.42e9,"v":-6.6},{"t":2.445e9,"v":18.5},{"t":2.47e9,"v":-8.2},{"t":2.495e9,"v":20.7},{"t":2.52e9,"v":-8.2},{"t":2.545e9,"v":16.9},{"t":2.57e9,"v":-5.1},{"t":2.595e9,"v":14.7},{"t":2.62e9,"v":-3.6},{"t":2.645e9,"v":11.6},{"t":2.67e9,"v":2.5},{"t":2.695e9,"v":10.1},{"t":2.72e9,"v":3.2},{"t":2.745e9,"v":8.6},{"t":2.77e9,"v":3.2},{"t":2.795e9,"v":7.8},{"t":2.82e9,"v":2.5},{"t":2.845e9,"v":9.3},{"t":2.87e9,"v":4},{"t":2.895e9,"v":11.6},{"t":2.92e9,"v":4.8},{"t":2.945e9,"v":12.4},{"t":2.97e9,"v":-1.3},{"t":2.995e9,"v":14.7},{"t":3.02e9,"v":-4.4},{"t":3.045e9,"v":15.4},{"t":3.07e9,"v":-5.9},{"t":3.095e9,"v":16.2},{"t":3.12e9,"v":-6.6},{"t":3.145e9,"v":16.9},{"t":3.17e9,"v":-7.4},{"t":3.195e9,"v":15.4},{"t":3.22e9,"v":-8.2},{"t":3.245e9,"v":20},{"t":3.27e9,"v":-7.4},{"t":3.295e9,"v":20.7},{"t":3.32e9,"v":-8.2},{"t":3.345e9,"v":20},{"t":3.37e9,"v":-8.2},{"t":3.395e9,"v":20.7},{"t":3.42e9,"v":-7.4},{"t":3.445e9,"v":20},{"t":3.47e9,"v":-10.4},{"t":3.495e9,"v":20.7},{"t":3.52e9,"v":-8.9},{"t":3.545e9,"v":20.7},{"t":3.57e9,"v":-7.4},{"t":3.595e9,"v":19.2},{"t":3.62e9,"v":-5.9},{"t":3.645e9,"v":16.9},{"t":3.67e9,"v":-7.4},{"t":3.695e9,"v":17.7},{"t":3.72e9,"v":-6.6},{"t":3.745e9,"v":16.2},{"t":3.77e9,"v":-6.6},{"t":3.795e9,"v":16.2},{"t":3.82e9,"v":-7.4},{"t":3.845e9,"v":15.4},{"t":3.87e9,"v":-5.9},{"t":3.895e9,"v":16.9},{"t":3.92e9,"v":-5.9},{"t":3.945e9,"v":14.7},{"t":3.97e9,"v":-8.2},{"t":3.995e9,"v":16.9},{"t":4.02e9,"v":-6.6},{"t":4.045e9,"v":19.2},{"t":4.07e9,"v":-5.9},{"t":4.095e9,"v":16.2},{"t":4.12e9,"v":-5.1},{"t":4.145e9,"v":14.7},{"t":4.17e9,"v":-3.6},{"t":4.195e9,"v":11.6},{"t":4.22e9,"v":-7.4},{"t":4.245e9,"v":18.5},{"t":4.27e9,"v":-7.4},{"t":4.295e9,"v":19.2},{"t":4.32e9,"v":-7.4},{"t":4.345e9,"v":16.2},{"t":4.37e9,"v":-8.9},{"t":4.395e9,"v":17.7},{"t":4.42e9,"v":-7.4},{"t":4.445e9,"v":16.9},{"t":4.47e9,"v":-8.9},{"t":4.495e9,"v":14},{"t":4.505e9,"v":2}],
"pluto":[{"t":0.14e9,"v":0.0157},{"t":0.154e9,"v":-0.0014},{"t":0.171e9,"v":-0.01},{"t":0.191e9,"v":-0.003},{"t":0.214e9,"v":0.0089},{"t":0.23e9,"v":0.0055},{"t":0.256e9,"v":-0.0133},{"t":0.279e9,"v":-0.0116},{"t":0.296e9,"v":-0.003},{"t":0.319e9,"v":-0.0252},{"t":0.339e9,"v":-0.015},{"t":0.355e9,"v":-0.0007},{"t":0.378e9,"v":-0.02},{"t":0.401e9,"v":-0.032},{"t":0.428e9,"v":-0.0167},{"t":0.454e9,"v":-0.032},{"t":0.477e9,"v":-0.044},{"t":0.5e9,"v":-0.0389},{"t":0.526e9,"v":-0.0406},{"t":0.553e9,"v":-0.0338},{"t":0.576e9,"v":-0.0406},{"t":0.599e9,"v":-0.0116},{"t":0.625e9,"v":-0.0235},{"t":0.652e9,"v":-0.003},{"t":0.674e9,"v":-0.0372},{"t":0.698e9,"v":0.0003},{"t":0.724e9,"v":-0.0116},{"t":0.75e9,"v":-0.0218},{"t":0.773e9,"v":-0.0048},{"t":0.806e9,"v":0.0089},{"t":0.829e9,"v":0.014},{"t":0.849e9,"v":0.0106},{"t":0.872e9,"v":0.0174},{"t":0.895e9,"v":0.0123},{"t":0.915e9,"v":-0.0048},{"t":0.938e9,"v":-0.0055},{"t":0.971e9,"v":-0.0065},{"t":1.004e9,"v":-0.0338},{"t":1.027e9,"v":-0.0286},{"t":1.053e9,"v":-0.0406},{"t":1.08e9,"v":-0.0338},{"t":1.103e9,"v":-0.0218},{"t":1.126e9,"v":-0.0303},{"t":1.152e9,"v":-0.0184},{"t":1.178e9,"v":-0.0286},{"t":1.201e9,"v":-0.0133},{"t":1.225e9,"v":-0.0099},{"t":1.244e9,"v":-0.0116},{"t":1.267e9,"v":-0.003},{"t":1.29e9,"v":0.002},{"t":1.31e9,"v":-0.0014},{"t":1.333e9,"v":0.0055},{"t":1.356e9,"v":0.0003},{"t":1.383e9,"v":0.0072},{"t":1.406e9,"v":0.0003},{"t":1.425e9,"v":0.0055},{"t":1.448e9,"v":-0.0082},{"t":1.481e9,"v":-0.0116},{"t":1.514e9,"v":-0.0235},{"t":1.537e9,"v":-0.0082},{"t":1.563e9,"v":-0.0109},{"t":1.586e9,"v":-0.0235},{"t":1.613e9,"v":-0.0184},{"t":1.639e9,"v":-0.0348},{"t":1.662e9,"v":-0.0525},{"t":1.685e9,"v":-0.044},{"t":1.712e9,"v":-0.0355},{"t":1.738e9,"v":-0.044},{"t":1.758e9,"v":-0.0645},{"t":1.777e9,"v":-0.0525},{"t":1.8e9,"v":-0.027},{"t":1.82e9,"v":-0.0508},{"t":1.843e9,"v":-0.02},{"t":1.86e9,"v":-0.0303},{"t":1.883e9,"v":-0.0116},{"t":1.903e9,"v":-0.003},{"t":1.919e9,"v":0.0003},{"t":1.936e9,"v":0.014},{"t":1.959e9,"v":0.0072},{"t":1.975e9,"v":0.0123},{"t":1.992e9,"v":0.002},{"t":2.015e9,"v":-0.0048},{"t":2.041e9,"v":-0.003},{"t":2.067e9,"v":-0.01},{"t":2.09e9,"v":-0.0116},{"t":2.123e9,"v":-0.0167},{"t":2.156e9,"v":-0.0218},{"t":2.189e9,"v":-0.0303},{"t":2.222e9,"v":-0.0372},{"t":2.248e9,"v":-0.044},{"t":2.265e9,"v":-0.0423},{"t":2.288e9,"v":-0.0303},{"t":2.321e9,"v":-0.0338},{"t":2.344e9,"v":-0.0303},{"t":2.364e9,"v":-0.0372},{"t":2.384e9,"v":-0.0303},{"t":2.41e9,"v":-0.0406},{"t":2.436e9,"v":-0.0355},{"t":2.469e9,"v":-0.0286},{"t":2.502e9,"v":-0.015},{"t":2.534e9,"v":-0.0116},{"t":2.561e9,"v":-0.0065},{"t":2.584e9,"v":-0.0048},{"t":2.607e9,"v":0.0003},{"t":2.627e9,"v":-0.0041},{"t":2.65e9,"v":0.0072},{"t":2.667e9,"v":0.0061},{"t":2.683e9,"v":-0.0014},{"t":2.706e9,"v":0.015},{"t":2.726e9,"v":-0.0082},{"t":2.749e9,"v":-0.0338},{"t":2.765e9,"v":-0.0286},{"t":2.782e9,"v":-0.0218},{"t":2.798e9,"v":-0.0184},{"t":2.821e9,"v":-0.0133},{"t":2.841e9,"v":-0.032},{"t":2.864e9,"v":-0.0338},{"t":2.881e9,"v":-0.044},{"t":2.904e9,"v":-0.0559},{"t":2.923e9,"v":-0.0542},{"t":2.946e9,"v":-0.0593},{"t":2.969e9,"v":-0.0662},{"t":2.989e9,"v":-0.0679},{"t":3.012e9,"v":-0.0525},{"t":3.035e9,"v":-0.0474},{"t":3.068e9,"v":-0.0474},{"t":3.101e9,"v":-0.0457},{"t":3.127e9,"v":-0.0372},{"t":3.154e9,"v":-0.0252},{"t":3.186e9,"v":-0.0252},{"t":3.209e9,"v":-0.0184},{"t":3.242e9,"v":-0.0116},{"t":3.275e9,"v":-0.0048},{"t":3.298e9,"v":0.0003},{"t":3.325e9,"v":-0.003},{"t":3.358e9,"v":-0.0116},{"t":3.391e9,"v":-0.015},{"t":3.424e9,"v":-0.02},{"t":3.45e9,"v":-0.027},{"t":3.473e9,"v":-0.0372},{"t":3.5e9,"v":-0.0457},{"t":3.529e9,"v":-0.0525},{"t":3.555e9,"v":-0.0593},{"t":3.582e9,"v":-0.0559},{"t":3.605e9,"v":-0.0576},{"t":3.638e9,"v":-0.0593},{"t":3.671e9,"v":-0.0525},{"t":3.704e9,"v":-0.0457},{"t":3.737e9,"v":-0.044},{"t":3.77e9,"v":-0.0389},{"t":3.803e9,"v":-0.032},{"t":3.836e9,"v":-0.0252},{"t":3.868e9,"v":-0.02},{"t":3.901e9,"v":-0.0116},{"t":3.918e9,"v":0.0038},{"t":3.944e9,"v":-0.0082},{"t":3.967e9,"v":-0.0048},{"t":3.984e9,"v":-0.0133},{"t":4.0e9,"v":-0.0082},{"t":4.033e9,"v":-0.0184},{"t":4.05e9,"v":-0.015},{"t":4.083e9,"v":-0.0338},{"t":4.116e9,"v":-0.0338},{"t":4.148e9,"v":-0.044},{"t":4.181e9,"v":-0.0525},{"t":4.208e9,"v":-0.0406},{"t":4.231e9,"v":-0.0474},{"t":4.254e9,"v":-0.0542},{"t":4.28e9,"v":-0.0474},{"t":4.303e9,"v":-0.0525},{"t":4.323e9,"v":-0.0372},{"t":4.352e9,"v":-0.0303},{"t":4.385e9,"v":-0.0252},{"t":4.412e9,"v":-0.0218},{"t":4.444e9,"v":-0.02},{"t":4.47e9,"v":-0.0211},{"t":4.494e9,"v":-0.0082},{"t":4.505e9,"v":-0.01}]
},
"spacing":23,
"bounds":"flush",
"vconcat":[
{"data":{"name":"mercury"},"width":593,"height":88,"resolve":{"axis":{"x":"independent","y":"independent"}},"layer":[
{"mark":{"type":"line"},"encoding":{"x":{"field":"t","type":"quantitative","scale":{"domain":[1.4e8,4.505e9],"nice":false,"zero":false},"axis":{"orient":"bottom","values":[5e8,1e9,1.5e9,2e9,2.5e9,3e9,3.5e9,4e9,4.5e9],"labels":false,"title":null}},"y":{"field":"v","type":"quantitative","scale":{"domain":[-100,40],"nice":false,"zero":false},"axis":{"orient":"left","values":[-100,-80,-60,-40,-20,0,20,40],"title":null,"labelExpr":"replace(replace(replace(format(datum.value,'.1e'),'e+','e+0'),'e-','e-0'),'\u2212','-')","grid":true,"gridColor":"#999","gridDash":[2,2],"gridWidth":1,"gridOpacity":{"condition":{"test":"datum.value === 0","value":1},"value":0}}}}},
{"mark":{"type":"line","strokeOpacity":0},"encoding":{"x":{"field":"t","type":"quantitative","axis":{"orient":"top","values":[5e8,1e9,1.5e9,2e9,2.5e9,3e9,3.5e9,4e9,4.5e9],"labels":false,"title":null}},"y":{"field":"v","type":"quantitative","axis":{"orient":"right","values":[-100,-80,-60,-40,-20,0,20,40],"labels":false,"title":"Mercury","titleAngle":270,"titleX":14,"titleY":44,"titleAlign":"center","titleBaseline":"middle"}}}}
]},
{"data":{"name":"venus"},"width":593,"height":88,"resolve":{"axis":{"x":"independent","y":"independent"}},"layer":[
{"mark":{"type":"line"},"encoding":{"x":{"field":"t","type":"quantitative","scale":{"domain":[1.4e8,4.505e9],"nice":false,"zero":false},"axis":{"orient":"bottom","values":[5e8,1e9,1.5e9,2e9,2.5e9,3e9,3.5e9,4e9,4.5e9],"labels":false,"title":null}},"y":{"field":"v","type":"quantitative","scale":{"domain":[-8,4],"nice":false,"zero":false},"axis":{"orient":"left","values":[-8,-6,-4,-2,0,2,4],"title":null,"labelExpr":"replace(replace(replace(format(datum.value,'.1e'),'e+','e+0'),'e-','e-0'),'\u2212','-')","grid":true,"gridColor":"#999","gridDash":[2,2],"gridWidth":1,"gridOpacity":{"condition":{"test":"datum.value === 0","value":1},"value":0}}}}},
{"mark":{"type":"line","strokeOpacity":0},"encoding":{"x":{"field":"t","type":"quantitative","axis":{"orient":"top","values":[5e8,1e9,1.5e9,2e9,2.5e9,3e9,3.5e9,4e9,4.5e9],"labels":false,"title":null}},"y":{"field":"v","type":"quantitative","axis":{"orient":"right","values":[-8,-6,-4,-2,0,2,4],"labels":false,"title":"Venus","titleAngle":270,"titleX":14,"titleY":44,"titleAlign":"center","titleBaseline":"middle"}}}}
]},
{"data":{"name":"earth"},"width":593,"height":88,"resolve":{"axis":{"x":"independent","y":"independent"}},"layer":[
{"mark":{"type":"line"},"encoding":{"x":{"field":"t","type":"quantitative","scale":{"domain":[1.4e8,4.505e9],"nice":false,"zero":false},"axis":{"orient":"bottom","values":[5e8,1e9,1.5e9,2e9,2.5e9,3e9,3.5e9,4e9,4.5e9],"labels":false,"title":null}},"y":{"field":"v","type":"quantitative","scale":{"domain":[-8,4],"nice":false,"zero":false},"axis":{"orient":"left","values":[-8,-6,-4,-2,0,2,4],"title":null,"labelExpr":"replace(replace(replace(format(datum.value,'.1e'),'e+','e+0'),'e-','e-0'),'\u2212','-')","grid":true,"gridColor":"#999","gridDash":[2,2],"gridWidth":1,"gridOpacity":{"condition":{"test":"datum.value === 0","value":1},"value":0}}}}},
{"mark":{"type":"line","strokeOpacity":0},"encoding":{"x":{"field":"t","type":"quantitative","axis":{"orient":"top","values":[5e8,1e9,1.5e9,2e9,2.5e9,3e9,3.5e9,4e9,4.5e9],"labels":false,"title":null}},"y":{"field":"v","type":"quantitative","axis":{"orient":"right","values":[-8,-6,-4,-2,0,2,4],"labels":false,"title":"Earth","titleAngle":270,"titleX":14,"titleY":44,"titleAlign":"center","titleBaseline":"middle"}}}}
]},
{"data":{"name":"mars"},"width":593,"height":88,"resolve":{"axis":{"x":"independent","y":"independent"}},"layer":[
{"mark":{"type":"line"},"encoding":{"x":{"field":"t","type":"quantitative","scale":{"domain":[1.4e8,4.505e9],"nice":false,"zero":false},"axis":{"orient":"bottom","values":[5e8,1e9,1.5e9,2e9,2.5e9,3e9,3.5e9,4e9,4.5e9],"labels":false,"title":null}},"y":{"field":"v","type":"quantitative","scale":{"domain":[-12,6],"nice":false,"zero":false},"axis":{"orient":"left","values":[-12,-10,-8,-6,-4,-2,0,2,4,6],"title":null,"labelExpr":"replace(replace(replace(format(datum.value,'.1e'),'e+','e+0'),'e-','e-0'),'\u2212','-')","grid":true,"gridColor":"#999","gridDash":[2,2],"gridWidth":1,"gridOpacity":{"condition":{"test":"datum.value === 0","value":1},"value":0}}}}},
{"mark":{"type":"line","strokeOpacity":0},"encoding":{"x":{"field":"t","type":"quantitative","axis":{"orient":"top","values":[5e8,1e9,1.5e9,2e9,2.5e9,3e9,3.5e9,4e9,4.5e9],"labels":false,"title":null}},"y":{"field":"v","type":"quantitative","axis":{"orient":"right","values":[-12,-10,-8,-6,-4,-2,0,2,4,6],"labels":false,"title":"Mars","titleAngle":270,"titleX":14,"titleY":44,"titleAlign":"center","titleBaseline":"middle"}}}}
]},
{"data":{"name":"jupiter"},"width":593,"height":88,"resolve":{"axis":{"x":"independent","y":"independent"}},"layer":[
{"mark":{"type":"line"},"encoding":{"x":{"field":"t","type":"quantitative","scale":{"domain":[1.4e8,4.505e9],"nice":false,"zero":false},"axis":{"orient":"bottom","values":[5e8,1e9,1.5e9,2e9,2.5e9,3e9,3.5e9,4e9,4.5e9],"labels":false,"title":null}},"y":{"field":"v","type":"quantitative","scale":{"domain":[-40,140],"nice":false,"zero":false},"axis":{"orient":"left","values":[-40,-20,0,20,40,60,80,100,120,140],"title":null,"labelExpr":"replace(replace(replace(format(datum.value,'.1e'),'e+','e+0'),'e-','e-0'),'\u2212','-')","grid":true,"gridColor":"#999","gridDash":[2,2],"gridWidth":1,"gridOpacity":{"condition":{"test":"datum.value === 0","value":1},"value":0}}}}},
{"mark":{"type":"line","strokeOpacity":0},"encoding":{"x":{"field":"t","type":"quantitative","axis":{"orient":"top","values":[5e8,1e9,1.5e9,2e9,2.5e9,3e9,3.5e9,4e9,4.5e9],"labels":false,"title":null}},"y":{"field":"v","type":"quantitative","axis":{"orient":"right","values":[-40,-20,0,20,40,60,80,100,120,140],"labels":false,"title":"Jupiter","titleAngle":270,"titleX":14,"titleY":44,"titleAlign":"center","titleBaseline":"middle"}}}}
]},
{"data":{"name":"saturn"},"width":593,"height":88,"resolve":{"axis":{"x":"independent","y":"independent"}},"layer":[
{"mark":{"type":"line"},"encoding":{"x":{"field":"t","type":"quantitative","scale":{"domain":[1.4e8,4.505e9],"nice":false,"zero":false},"axis":{"orient":"bottom","values":[5e8,1e9,1.5e9,2e9,2.5e9,3e9,3.5e9,4e9,4.5e9],"labels":false,"title":null}},"y":{"field":"v","type":"quantitative","scale":{"domain":[-400,1000],"nice":false,"zero":false},"axis":{"orient":"left","values":[-400,-200,0,200,400,600,800,1000],"title":null,"labelExpr":"replace(replace(replace(format(datum.value,'.1e'),'e+','e+0'),'e-','e-0'),'\u2212','-')","grid":true,"gridColor":"#999","gridDash":[2,2],"gridWidth":1,"gridOpacity":{"condition":{"test":"datum.value === 0","value":1},"value":0}}}}},
{"mark":{"type":"line","strokeOpacity":0},"encoding":{"x":{"field":"t","type":"quantitative","axis":{"orient":"top","values":[5e8,1e9,1.5e9,2e9,2.5e9,3e9,3.5e9,4e9,4.5e9],"labels":false,"title":null}},"y":{"field":"v","type":"quantitative","axis":{"orient":"right","values":[-400,-200,0,200,400,600,800,1000],"labels":false,"title":"Saturn","titleAngle":270,"titleX":14,"titleY":44,"titleAlign":"center","titleBaseline":"middle"}}}}
]},
{"data":{"name":"uranus"},"width":593,"height":88,"resolve":{"axis":{"x":"independent","y":"independent"}},"layer":[
{"mark":{"type":"line"},"encoding":{"x":{"field":"t","type":"quantitative","scale":{"domain":[1.4e8,4.505e9],"nice":false,"zero":false},"axis":{"orient":"bottom","values":[5e8,1e9,1.5e9,2e9,2.5e9,3e9,3.5e9,4e9,4.5e9],"labels":false,"title":null}},"y":{"field":"v","type":"quantitative","scale":{"domain":[-400,200],"nice":false,"zero":false},"axis":{"orient":"left","values":[-400,-300,-200,-100,0,100,200],"title":null,"labelExpr":"replace(replace(replace(format(datum.value,'.1e'),'e+','e+0'),'e-','e-0'),'\u2212','-')","grid":true,"gridColor":"#999","gridDash":[2,2],"gridWidth":1,"gridOpacity":{"condition":{"test":"datum.value === 0","value":1},"value":0}}}}},
{"mark":{"type":"line","strokeOpacity":0},"encoding":{"x":{"field":"t","type":"quantitative","axis":{"orient":"top","values":[5e8,1e9,1.5e9,2e9,2.5e9,3e9,3.5e9,4e9,4.5e9],"labels":false,"title":null}},"y":{"field":"v","type":"quantitative","axis":{"orient":"right","values":[-400,-300,-200,-100,0,100,200],"labels":false,"title":"Uranus","titleAngle":270,"titleX":14,"titleY":44,"titleAlign":"center","titleBaseline":"middle"}}}}
]},
{"data":{"name":"neptune"},"width":593,"height":88,"resolve":{"axis":{"x":"independent","y":"independent"}},"layer":[
{"mark":{"type":"line"},"encoding":{"x":{"field":"t","type":"quantitative","scale":{"domain":[1.4e8,4.505e9],"nice":false,"zero":false},"axis":{"orient":"bottom","values":[5e8,1e9,1.5e9,2e9,2.5e9,3e9,3.5e9,4e9,4.5e9],"labels":false,"title":null}},"y":{"field":"v","type":"quantitative","scale":{"domain":[-15,25],"nice":false,"zero":false},"axis":{"orient":"left","values":[-15,-10,-5,0,5,10,15,20,25],"title":null,"labelExpr":"replace(replace(replace(format(datum.value,'.1e'),'e+','e+0'),'e-','e-0'),'\u2212','-')","grid":true,"gridColor":"#999","gridDash":[2,2],"gridWidth":1,"gridOpacity":{"condition":{"test":"datum.value === 0","value":1},"value":0}}}}},
{"mark":{"type":"line","strokeOpacity":0},"encoding":{"x":{"field":"t","type":"quantitative","axis":{"orient":"top","values":[5e8,1e9,1.5e9,2e9,2.5e9,3e9,3.5e9,4e9,4.5e9],"labels":false,"title":null}},"y":{"field":"v","type":"quantitative","axis":{"orient":"right","values":[-15,-10,-5,0,5,10,15,20,25],"labels":false,"title":"Neptune","titleAngle":270,"titleX":14,"titleY":44,"titleAlign":"center","titleBaseline":"middle"}}}}
]},
{"data":{"name":"pluto"},"width":593,"height":88,"resolve":{"axis":{"x":"independent","y":"independent"}},"layer":[
{"mark":{"type":"line"},"encoding":{"x":{"field":"t","type":"quantitative","scale":{"domain":[1.4e8,4.505e9],"nice":false,"zero":false},"axis":{"orient":"bottom","values":[5e8,1e9,1.5e9,2e9,2.5e9,3e9,3.5e9,4e9,4.5e9],"labels":true,"labelPadding":13,"labelExpr":"replace(format(datum.value,'~e'),'e+','e+0')","title":null}},"y":{"field":"v","type":"quantitative","scale":{"domain":[-0.07,0.02],"nice":false,"zero":false},"axis":{"orient":"left","values":[-0.07,-0.06,-0.05,-0.04,-0.03,-0.02,-0.01,0,0.01,0.02],"title":null,"labelExpr":"replace(replace(replace(format(datum.value,'.1e'),'e+','e+0'),'e-','e-0'),'\u2212','-')","grid":true,"gridColor":"#999","gridDash":[2,2],"gridWidth":1,"gridOpacity":{"condition":{"test":"datum.value === 0","value":1},"value":0}}}}},
{"mark":{"type":"line","strokeOpacity":0},"encoding":{"x":{"field":"t","type":"quantitative","axis":{"orient":"top","values":[5e8,1e9,1.5e9,2e9,2.5e9,3e9,3.5e9,4e9,4.5e9],"labels":false,"title":null}},"y":{"field":"v","type":"quantitative","axis":{"orient":"right","values":[-0.07,-0.06,-0.05,-0.04,-0.03,-0.02,-0.01,0,0.01,0.02],"labels":false,"title":"Pluto","titleAngle":270,"titleX":14,"titleY":44,"titleAlign":"center","titleBaseline":"middle"}}}}
]}
]
}
